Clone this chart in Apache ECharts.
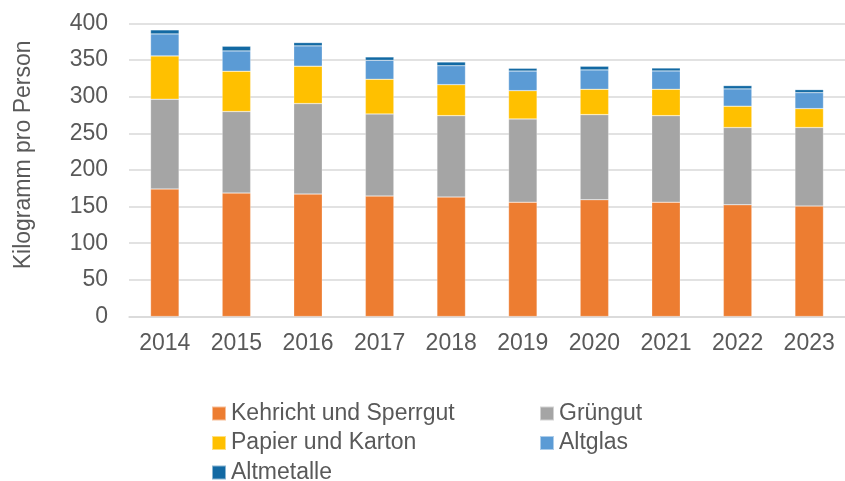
<!DOCTYPE html>
<html>
<head>
<meta charset="utf-8">
<script src="https://cdn.jsdelivr.net/npm/echarts@6/dist/echarts.min.js"></script>
<style>
html,body{margin:0;padding:0;background:#fff;}
#chart{width:845px;height:481px;}
</style>
</head>
<body>
<div id="chart"></div>
<script>
const years = ['2014','2015','2016','2017','2018','2019','2020','2021','2022','2023'];
const kehricht = [174, 168.4, 167, 164.3, 163, 156, 159.3, 156, 152.4, 150.6];
const gruengut = [122.5, 111.2, 123.5, 112.1, 111, 113.5, 116.1, 118, 105.4, 107.2];
const papier = [59, 55, 51, 47.3, 42.3, 38.6, 34.6, 36, 29.1, 25.8];
const altglas = [30, 27.7, 27.7, 25.9, 25.8, 26.8, 26.4, 25, 23.6, 21.8];
const altmetalle = [5.5, 6.4, 4.5, 4.5, 5.1, 3.7, 5, 4, 4.5, 4.1];
const yTicks = [0, 50, 100, 150, 200, 250, 300, 350, 400];

const names = ['Kehricht und Sperrgut','Grüngut','Papier und Karton','Altglas','Altmetalle'];
const values = [kehricht, gruengut, papier, altglas, altmetalle];
const colors = ['#ED7D31','#A5A5A5','#FFC000','#5B9BD5','#1269A3'];
const textColor = '#595959';
const font = 'Arial, "Liberation Sans", sans-serif';

const chart = echarts.init(document.getElementById('chart'), null, {renderer:'canvas'});
const legendText = {color:textColor, fontSize:23, fontFamily:font, lineHeight:22};
chart.setOption({
  animation:false,
  grid:{left:129, top:23.3, width:717, bottom:164.5, containLabel:false},
  xAxis:{
    type:'category', data:years,
    axisLine:{lineStyle:{color:'#D9D9D9', width:1.5}},
    axisTick:{show:false},
    axisLabel:{color:textColor, fontSize:23, fontFamily:font, margin:16}
  },
  yAxis:{
    type:'value', min:yTicks[0], max:yTicks[yTicks.length-1], interval:50,
    name:'Kilogramm pro Person', nameLocation:'middle', nameGap:94,
    nameTextStyle:{color:textColor, fontSize:23, fontFamily:font, padding:[0,0,0,30]},
    axisLine:{show:false}, axisTick:{show:false},
    splitLine:{lineStyle:{color:'#D9D9D9', width:1.5}},
    axisLabel:{color:textColor, fontSize:23, fontFamily:font, margin:21}
  },
  legend:[
    {data:[names[0],names[2],names[4]], orient:'vertical', left:206, top:397, height:120,
     itemWidth:14, itemHeight:14, itemGap:6.5, icon:'rect', textStyle:legendText},
    {data:[names[1],names[3]], orient:'vertical', left:534, top:397, height:120,
     itemWidth:14, itemHeight:14, itemGap:6.5, icon:'rect', textStyle:legendText}
  ],
  series: names.map((n,i)=>({
    name:n, type:'bar', stack:'total', data:values[i],
    barWidth:28.5,
    itemStyle:{color:colors[i], borderColor:'rgba(255,255,255,0.5)', borderWidth:0.5}
  }))
});
</script>
</body>
</html>
